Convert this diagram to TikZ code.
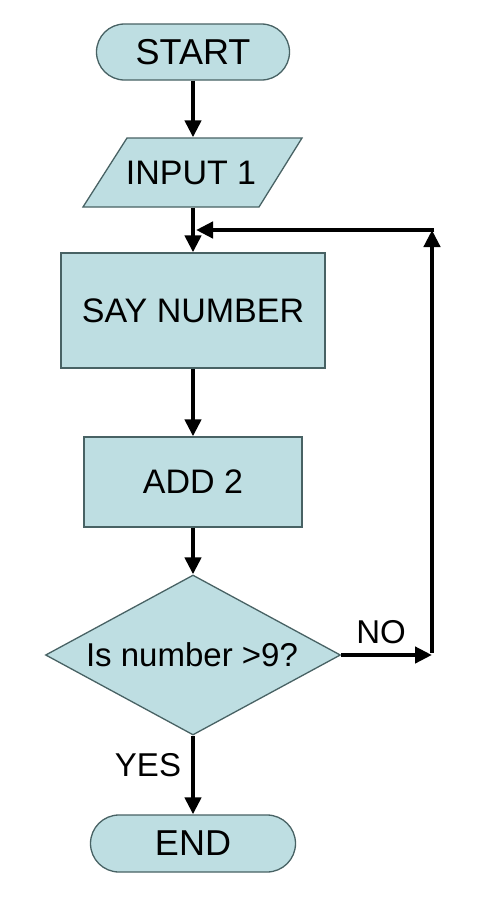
\documentclass[tikz,border=0pt]{standalone}
\usepackage{fontspec}
\setmainfont{Liberation Sans}
\usetikzlibrary{shapes.misc,shapes.geometric,arrows.meta}
\definecolor{boxfill}{RGB}{190,222,226}
\definecolor{boxline}{RGB}{72,98,100}
\tikzset{
  shapebox/.style={draw=boxline, fill=boxfill, line width=1.3pt, inner sep=0pt},
  term/.style={shapebox, rounded rectangle, font=\fontsize{36}{40}\selectfont},
  procbox/.style={shapebox, rectangle, font=\fontsize{34}{38}\selectfont},
  lbl/.style={font=\fontsize{33}{36}\selectfont, inner sep=0pt},
  arr/.style={line width=4.5pt, -{Triangle[length=17pt,width=16pt]}}
}
\begin{document}
\begin{tikzpicture}[x=1pt,y=-1pt]
\useasboundingbox (0,0) rectangle (480,908);
\fill[white] (0,0) rectangle (480,908);
% terminals and processes
\node[term, minimum width=193pt, minimum height=56pt] (start) at (193,52) {START};
\draw[shapebox] (127,138) -- (302,138) -- (259,207) -- (83,207) -- cycle;
\node[procbox, draw=none, fill=none, minimum height=69pt, minimum width=120pt] (input) at (191,172.5) {INPUT 1};
\node[procbox, minimum width=264pt, minimum height=115pt] (say) at (193,310.5) {SAY NUMBER};
\node[procbox, minimum width=218pt, minimum height=90pt] (add) at (193,482) {ADD 2};
\node[shapebox, diamond, minimum width=295pt, minimum height=160pt, aspect=1.84] (dec) at (193,655) {};
\node[procbox, draw=none, fill=none, font=\fontsize{33}{36}\selectfont] (dectext) at (192,655) {Is number >9?};
\node[term, minimum width=205pt, minimum height=57pt] (end) at (193,843.5) {END};
% labels
\node[lbl] (no) at (381,632) {NO};
\node[lbl] (yes) at (148,765) {YES};
% connectors
\coordinate (loopR) at (432,655);
\coordinate (loopT) at (432,230);
\coordinate (join) at (196,230);
\draw[arr] (start.south) -- (start.south |- input.north);
\draw[arr] (start.south |- input.south) -- (say.north);
\draw[arr] (say.south) -- (add.north);
\draw[arr] (add.south) -- (dec.north);
\draw[arr] (dec.south) -- (end.north);
\draw[arr] (dec.east) -- (loopR);
\draw[arr] ([yshift=2.25pt]loopR) -- (loopT);
\draw[arr] ([xshift=2.25pt]loopT) -- (join);
\end{tikzpicture}
\end{document}
